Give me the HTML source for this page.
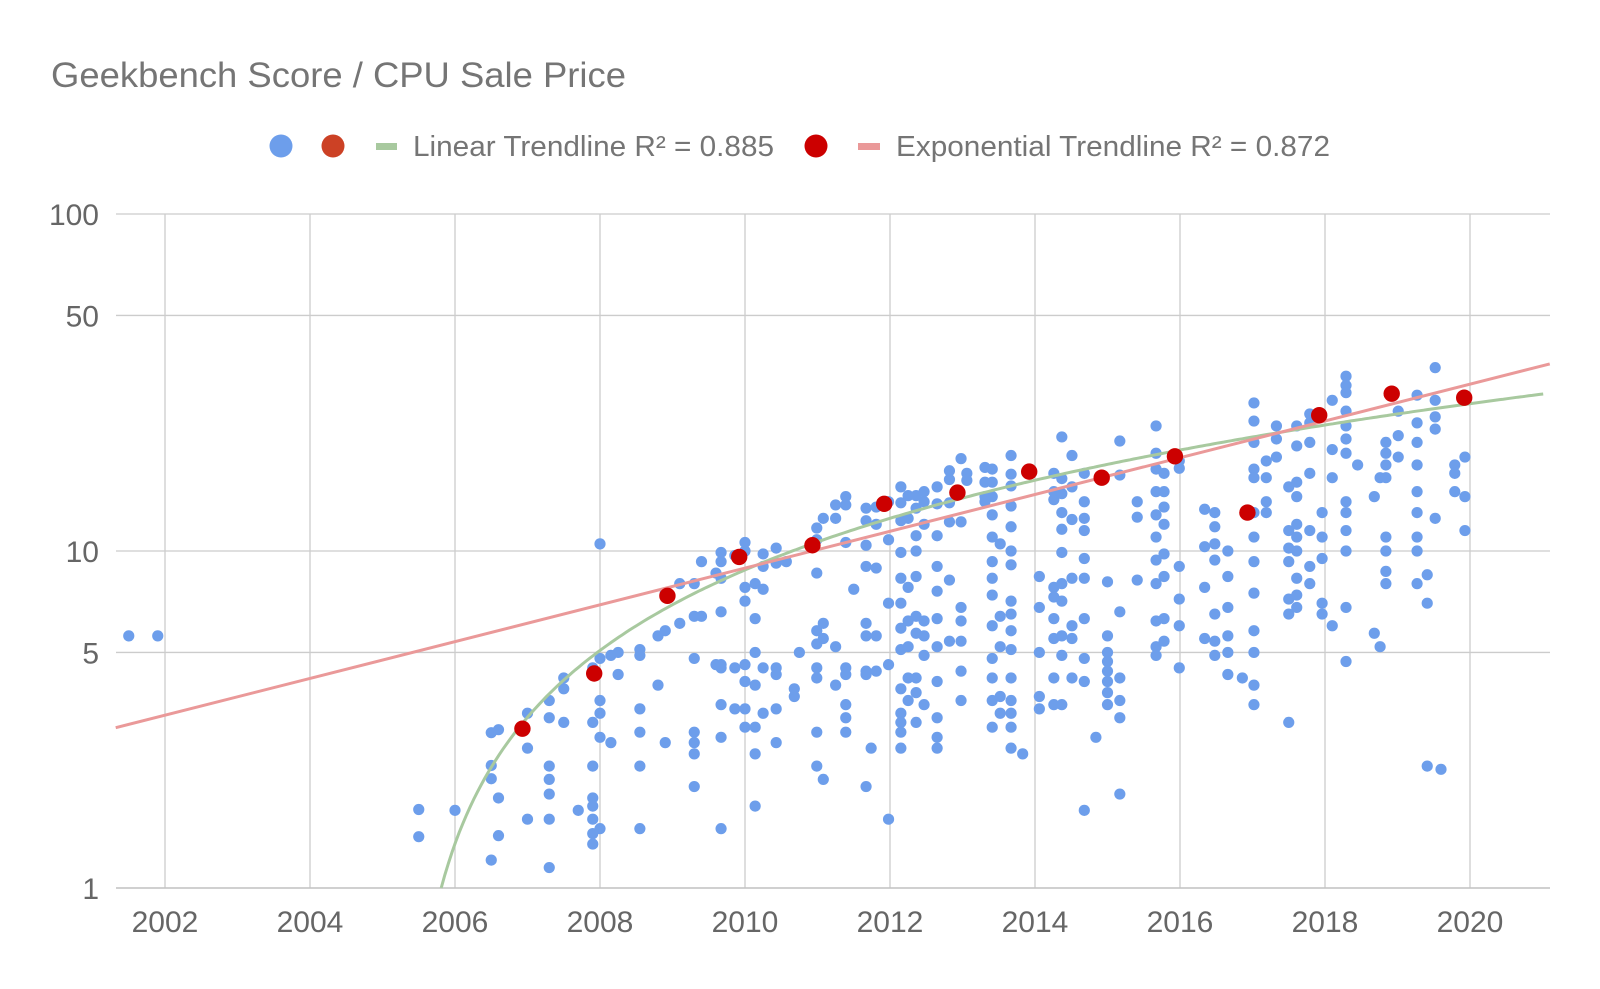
<!DOCTYPE html>
<html><head><meta charset="utf-8">
<style>
html,body{margin:0;padding:0;background:#fff;width:1600px;height:989px;overflow:hidden;}
svg text{font-family:"Liberation Sans",sans-serif;}
</style></head>
<body>
<svg id="chart" width="1600" height="989" xmlns="http://www.w3.org/2000/svg">
<text x="51" y="87" font-size="35" fill="#757575" textLength="575" lengthAdjust="spacingAndGlyphs">Geekbench Score / CPU Sale Price</text>
<g font-size="29" fill="#757575">
 <circle cx="281" cy="146" r="11.5" fill="#6d9eeb"/>
 <circle cx="333" cy="146" r="11.5" fill="#cc4125"/>
 <rect x="376" y="143" width="21" height="7" fill="#a8c99f"/>
 <text x="413" y="156" textLength="361" lengthAdjust="spacingAndGlyphs">Linear Trendline R² = 0.885</text>
 <circle cx="816" cy="146" r="11.5" fill="#cc0000"/>
 <rect x="858" y="143" width="22" height="7" fill="#ea9999"/>
 <text x="896" y="156" textLength="434" lengthAdjust="spacingAndGlyphs">Exponential Trendline R² = 0.872</text>
</g>
<g id="grid"></g>
<g id="blue"></g>
<g id="lines"></g>
<g id="red"></g>
</svg>
<script>
const yTicks=[1,5,10,50,100];
const xTicks=[2002,2004,2006,2008,2010,2012,2014,2016,2018,2020];
const redYears=[2006.93,2007.92,2008.93,2009.92,2010.93,2011.92,2012.93,2013.92,2014.92,2015.93,2016.93,2017.92,2018.92,2019.92];
const redVals=[2.97,4.33,7.36,9.6,10.4,13.8,14.9,17.2,16.5,19.1,13.0,25.3,29.3,28.5];
const linA=1, linX0=2005.81, linB=1.858;
const expStartYear=2001.32, expStartVal=2.99, expEndYear=2021.1, expEndVal=35.9;
const blueCols=[
[2001.5,[5.6]],[2001.9,[5.6]],
[2005.5,[1.71,1.42]],[2006.0,[1.7]],
[2006.5,[2.89,2.31,2.11,1.21]],[2006.6,[2.95,1.85,1.43]],
[2007.0,[3.3,2.6,1.6]],[2007.3,[3.6,3.2,2.3,2.1,1.9,1.6,1.15]],
[2007.5,[4.2,3.9,3.1]],[2007.7,[1.7]],
[2007.9,[4.5,3.1,2.3,1.85,1.75,1.6,1.45,1.35]],
[2008.0,[10.5,4.8,3.6,3.3,2.8,1.5]],[2008.15,[4.9,2.7]],[2008.25,[5.0,4.3]],
[2008.55,[5.1,4.9,3.4,2.9,2.3,1.5]],[2008.8,[5.6,4.0]],[2008.9,[5.8,7.5,2.7]],
[2009.1,[8.0,6.1]],[2009.3,[8.0,6.4,4.8,2.9,2.7,2.5,2.0]],[2009.4,[9.3,6.4]],
[2009.6,[8.6,4.6]],[2009.67,[9.9,9.3,8.3,6.6,4.6,4.5,3.5,2.8,1.5]],
[2009.86,[9.7,4.5,3.4]],[2010.0,[10.6,10.0,7.8,7.1,4.6,4.1,3.4,3.0]],
[2010.14,[8.0,6.3,5.0,4.0,3.0,2.5,1.75]],[2010.25,[9.8,9.0,7.7,4.5,3.3]],
[2010.43,[10.2,9.2,4.5,4.3,3.4,2.7]],[2010.57,[9.3]],[2010.68,[3.7,3.9]],[2010.75,[5.0]],
[2010.99,[11.7,10.8,8.6,5.8,5.3,4.5,4.2,2.9,2.3]],[2011.08,[12.5,6.1,5.5,2.1]],
[2011.25,[13.7,12.5,5.2,4.0]],[2011.39,[14.5,13.7,10.6,4.5,4.3,3.5,3.2,2.9]],
[2011.5,[7.7]],[2011.67,[13.4,12.3,10.4,9.0,6.1,5.6,4.4,4.3,2.0]],[2011.74,[2.6]],
[2011.81,[13.5,12.0,8.9,5.6,4.4]],[2011.98,[14.0,10.8,7.0,4.6,1.6]],
[2012.15,[15.5,13.9,12.3,9.9,8.3,7.0,5.9,5.1,3.9,3.3,3.1,2.9,2.6]],
[2012.25,[14.6,12.5,7.8,6.2,5.2,4.2,3.6]],
[2012.36,[14.6,13.4,11.1,10.0,8.4,6.4,5.7,4.2,3.8,3.1]],
[2012.47,[15.0,14.0,12.0,6.2,5.6,4.9,3.5]],
[2012.65,[15.5,13.8,11.1,9.0,7.6,6.3,5.2,4.1,3.2,2.8,2.6]],
[2012.82,[17.3,16.3,13.9,12.2,8.2,5.4]],
[2012.98,[18.8,12.2,6.8,6.2,5.4,4.4,3.6]],[2013.06,[17.0,16.2]],
[2013.31,[17.7,16.0,14.5,14.0]],
[2013.41,[17.5,16.0,14.5,12.8,11.0,9.3,8.3,7.4,6.0,4.8,4.2,3.6,3.0]],
[2013.52,[10.5,6.4,5.2,3.7,3.3]],
[2013.67,[19.2,16.9,15.6,13.6,11.8,10.0,9.1,7.1,6.5,5.8,5.1,4.2,3.6,3.3,3.0,2.6]],
[2013.83,[2.5]],[2014.06,[8.4,6.8,5.0,3.7,3.4]],
[2014.26,[17.0,15.0,14.2,7.8,7.3,6.3,5.5,4.2,3.5]],
[2014.37,[21.8,16.4,14.8,13.0,11.6,9.9,8.0,7.1,5.6,4.9,3.5]],
[2014.51,[19.2,15.5,12.4,8.3,6.0,5.5,4.2]],
[2014.68,[17.0,14.0,12.5,11.5,9.5,8.3,6.3,4.8,4.1,1.7]],
[2014.84,[2.8]],[2015.0,[8.1,5.6,5.0,4.7,4.4,4.1,3.8,3.5]],
[2015.17,[21.2,16.8,6.6,4.2,3.6,3.2,1.9]],[2015.41,[14.0,12.6,8.2]],
[2015.67,[23.5,19.5,17.5,15.0,12.8,11.0,9.4,8.0,6.2,5.2,4.9]],
[2015.78,[17.0,15.0,13.5,12.0,9.8,8.4,6.3,5.4]],
[2015.99,[18.5,17.6,9.0,7.2,6.0,4.5]],[2016.34,[13.3,10.3,7.8,5.5]],
[2016.48,[13.0,11.8,10.5,9.4,6.5,5.4,4.9]],[2016.66,[10.0,8.4,6.8,5.6,5.0,4.3]],
[2016.86,[4.2]],
[2017.02,[27.5,24.3,21.0,17.5,16.5,13.0,11.0,9.3,7.5,5.8,5.0,4.0,3.5]],
[2017.19,[18.5,16.5,14.0,13.0]],[2017.33,[23.5,21.5,19.0]],
[2017.5,[15.5,11.5,10.2,9.3,7.2,6.5,3.1]],
[2017.61,[23.5,20.5,16.0,14.5,12.0,11.0,10.0,8.3,7.4,6.8]],
[2017.79,[25.5,24.0,21.0,17.0,11.5,9.0,8.0]],[2017.96,[13.0,11.0,9.5,7.0,6.5]],
[2018.1,[28.0,20.0,16.5,6.0]],
[2018.29,[33.0,31.0,29.5,26.0,23.5,21.5,19.5,14.0,13.0,11.5,10.0,6.8,4.7]],
[2018.45,[18.0]],[2018.68,[14.5,5.7]],[2018.76,[5.2,16.5]],
[2018.84,[21.0,19.5,18.0,16.5,11.0,10.0,8.7,8.0]],[2019.01,[26.0,22.0,19.0]],
[2019.27,[29.0,24.0,21.0,18.0,15.0,13.0,11.0,10.0,8.0]],[2019.41,[8.5,7.0,2.3]],
[2019.52,[35.0,28.0,25.0,23.0,12.5]],[2019.6,[2.25]],
[2019.79,[18.0,17.0,15.0]],[2019.93,[19.0,14.5,11.5]]
];
const NS="http://www.w3.org/2000/svg";
const L=116,R=1550,T=214,B=888;
const X0=2002,X1=2020,PX0=165,PX1=1470;
function xs(y){return PX0+(y-X0)*(PX1-PX0)/(X1-X0);}
function ys(v){return B-(Math.log10(v)-0)/(2-0)*(B-T);}
function mk(tag,attrs,parent){const e=document.createElementNS(NS,tag);for(const k in attrs)e.setAttribute(k,attrs[k]);parent.appendChild(e);return e;}
const grid=document.getElementById('grid');
yTicks.forEach(t=>{
  const l=mk('line',{x1:L,x2:R,y1:ys(t),y2:ys(t),stroke:'#cccccc','stroke-width':1.3},grid);
  
  
  const tx=mk('text',{x:99,y:ys(t)+11,'text-anchor':'end','font-size':30,fill:'#666'},grid);
  tx.textContent=t;
  
  
});
xTicks.forEach(t=>{
  const l=mk('line',{x1:xs(t),x2:xs(t),y1:T,y2:B,stroke:'#cccccc','stroke-width':1.3},grid);
  
  
  const tx=mk('text',{x:xs(t),y:932,'text-anchor':'middle','font-size':30,fill:'#666'},grid);
  tx.textContent=t;
  
  
});
const ax=mk('line',{x1:L,x2:R,y1:B,y2:B,stroke:'#c4c4c4','stroke-width':1.5},grid);


const blue=document.getElementById('blue');
blueCols.forEach(c=>{c[1].forEach(v=>{
  const p=mk('circle',{cx:xs(c[0]),cy:ys(v),r:5.6,fill:'#6d9eeb'},blue);
  
  
});});
const lines=document.getElementById('lines');
let d='';
for(let yr=linX0;yr<=2021.04;yr+=0.05){const v=linA+linB*(yr-linX0);const v2=Math.max(v,1);d+=(d?'L':'M')+xs(yr).toFixed(1)+','+ys(v2).toFixed(1);}
const lp=mk('path',{d:d,fill:'none',stroke:'#a8c99f','stroke-width':3},lines);


const ep=mk('line',{x1:xs(expStartYear),y1:ys(expStartVal),x2:xs(expEndYear),y2:ys(expEndVal),stroke:'#ea9999','stroke-width':3},lines);


const red=document.getElementById('red');
redYears.forEach((yr,i)=>{
  const p=mk('circle',{cx:xs(yr),cy:ys(redVals[i]),r:8.2,fill:'#cc0000'},red);
  
  
});
</script>
</body></html>
